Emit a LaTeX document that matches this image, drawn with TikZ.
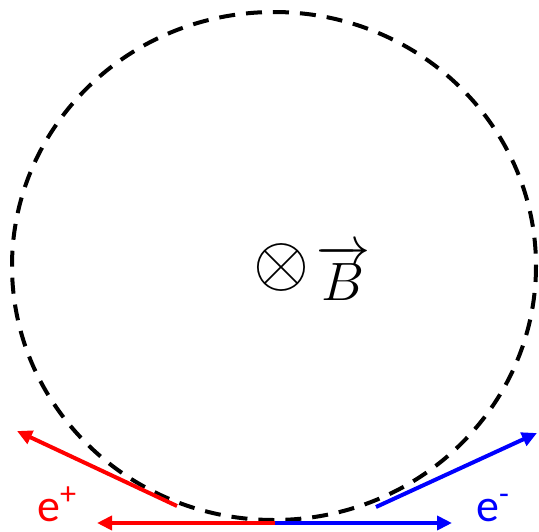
\RequirePackage{fix-cm}
\documentclass[tikz,border=0pt]{standalone}
\usepackage{fontspec}
\newfontfamily\labelfont{Carlito}
\usetikzlibrary{arrows.meta,positioning}
\begin{document}
\begin{tikzpicture}[
  x=1pt, y=-1pt,
  orbit/.style={dash pattern=on 16pt off 11pt, line width=4pt},
  track/.style={-{Triangle[length=15pt,width=14pt]}, line width=4pt},
  charge/.style={font=\labelfont\fontsize{46}{52}\selectfont, inner sep=0pt, anchor=base west},
  sym/.style={inner sep=0pt}
]
\useasboundingbox (0,0) rectangle (539,531);
\draw[orbit] (274,266) ellipse [x radius=262, y radius=254];

\node[sym, font=\fontsize{72}{80}\selectfont] (otimes) at (281,267) {$\otimes$};
\node[sym, font=\fontsize{54}{60}\selectfont, anchor=base west] (field) at (316,300) {$\overrightarrow{B}$};

\coordinate (touch) at (275,523);
\coordinate (posEnd) at (97,523);
\coordinate (eleEnd) at (452,523);
\coordinate (posStart) at (177,506);
\coordinate (posTip) at (17,431);
\coordinate (eleStart) at (376,507);
\coordinate (eleTip) at (537,433);

\draw[track, red] (touch) -- (posEnd);
\draw[track, blue] (touch) -- (eleEnd);
\draw[track, red] (posStart) -- (posTip);
\draw[track, blue] (eleStart) -- (eleTip);

\node[charge, red] (pos) at (37,521) {e\textsuperscript{+}};
\node[charge, blue] (ele) at (476,521) {e\textsuperscript{-}};
\end{tikzpicture}
\end{document}
